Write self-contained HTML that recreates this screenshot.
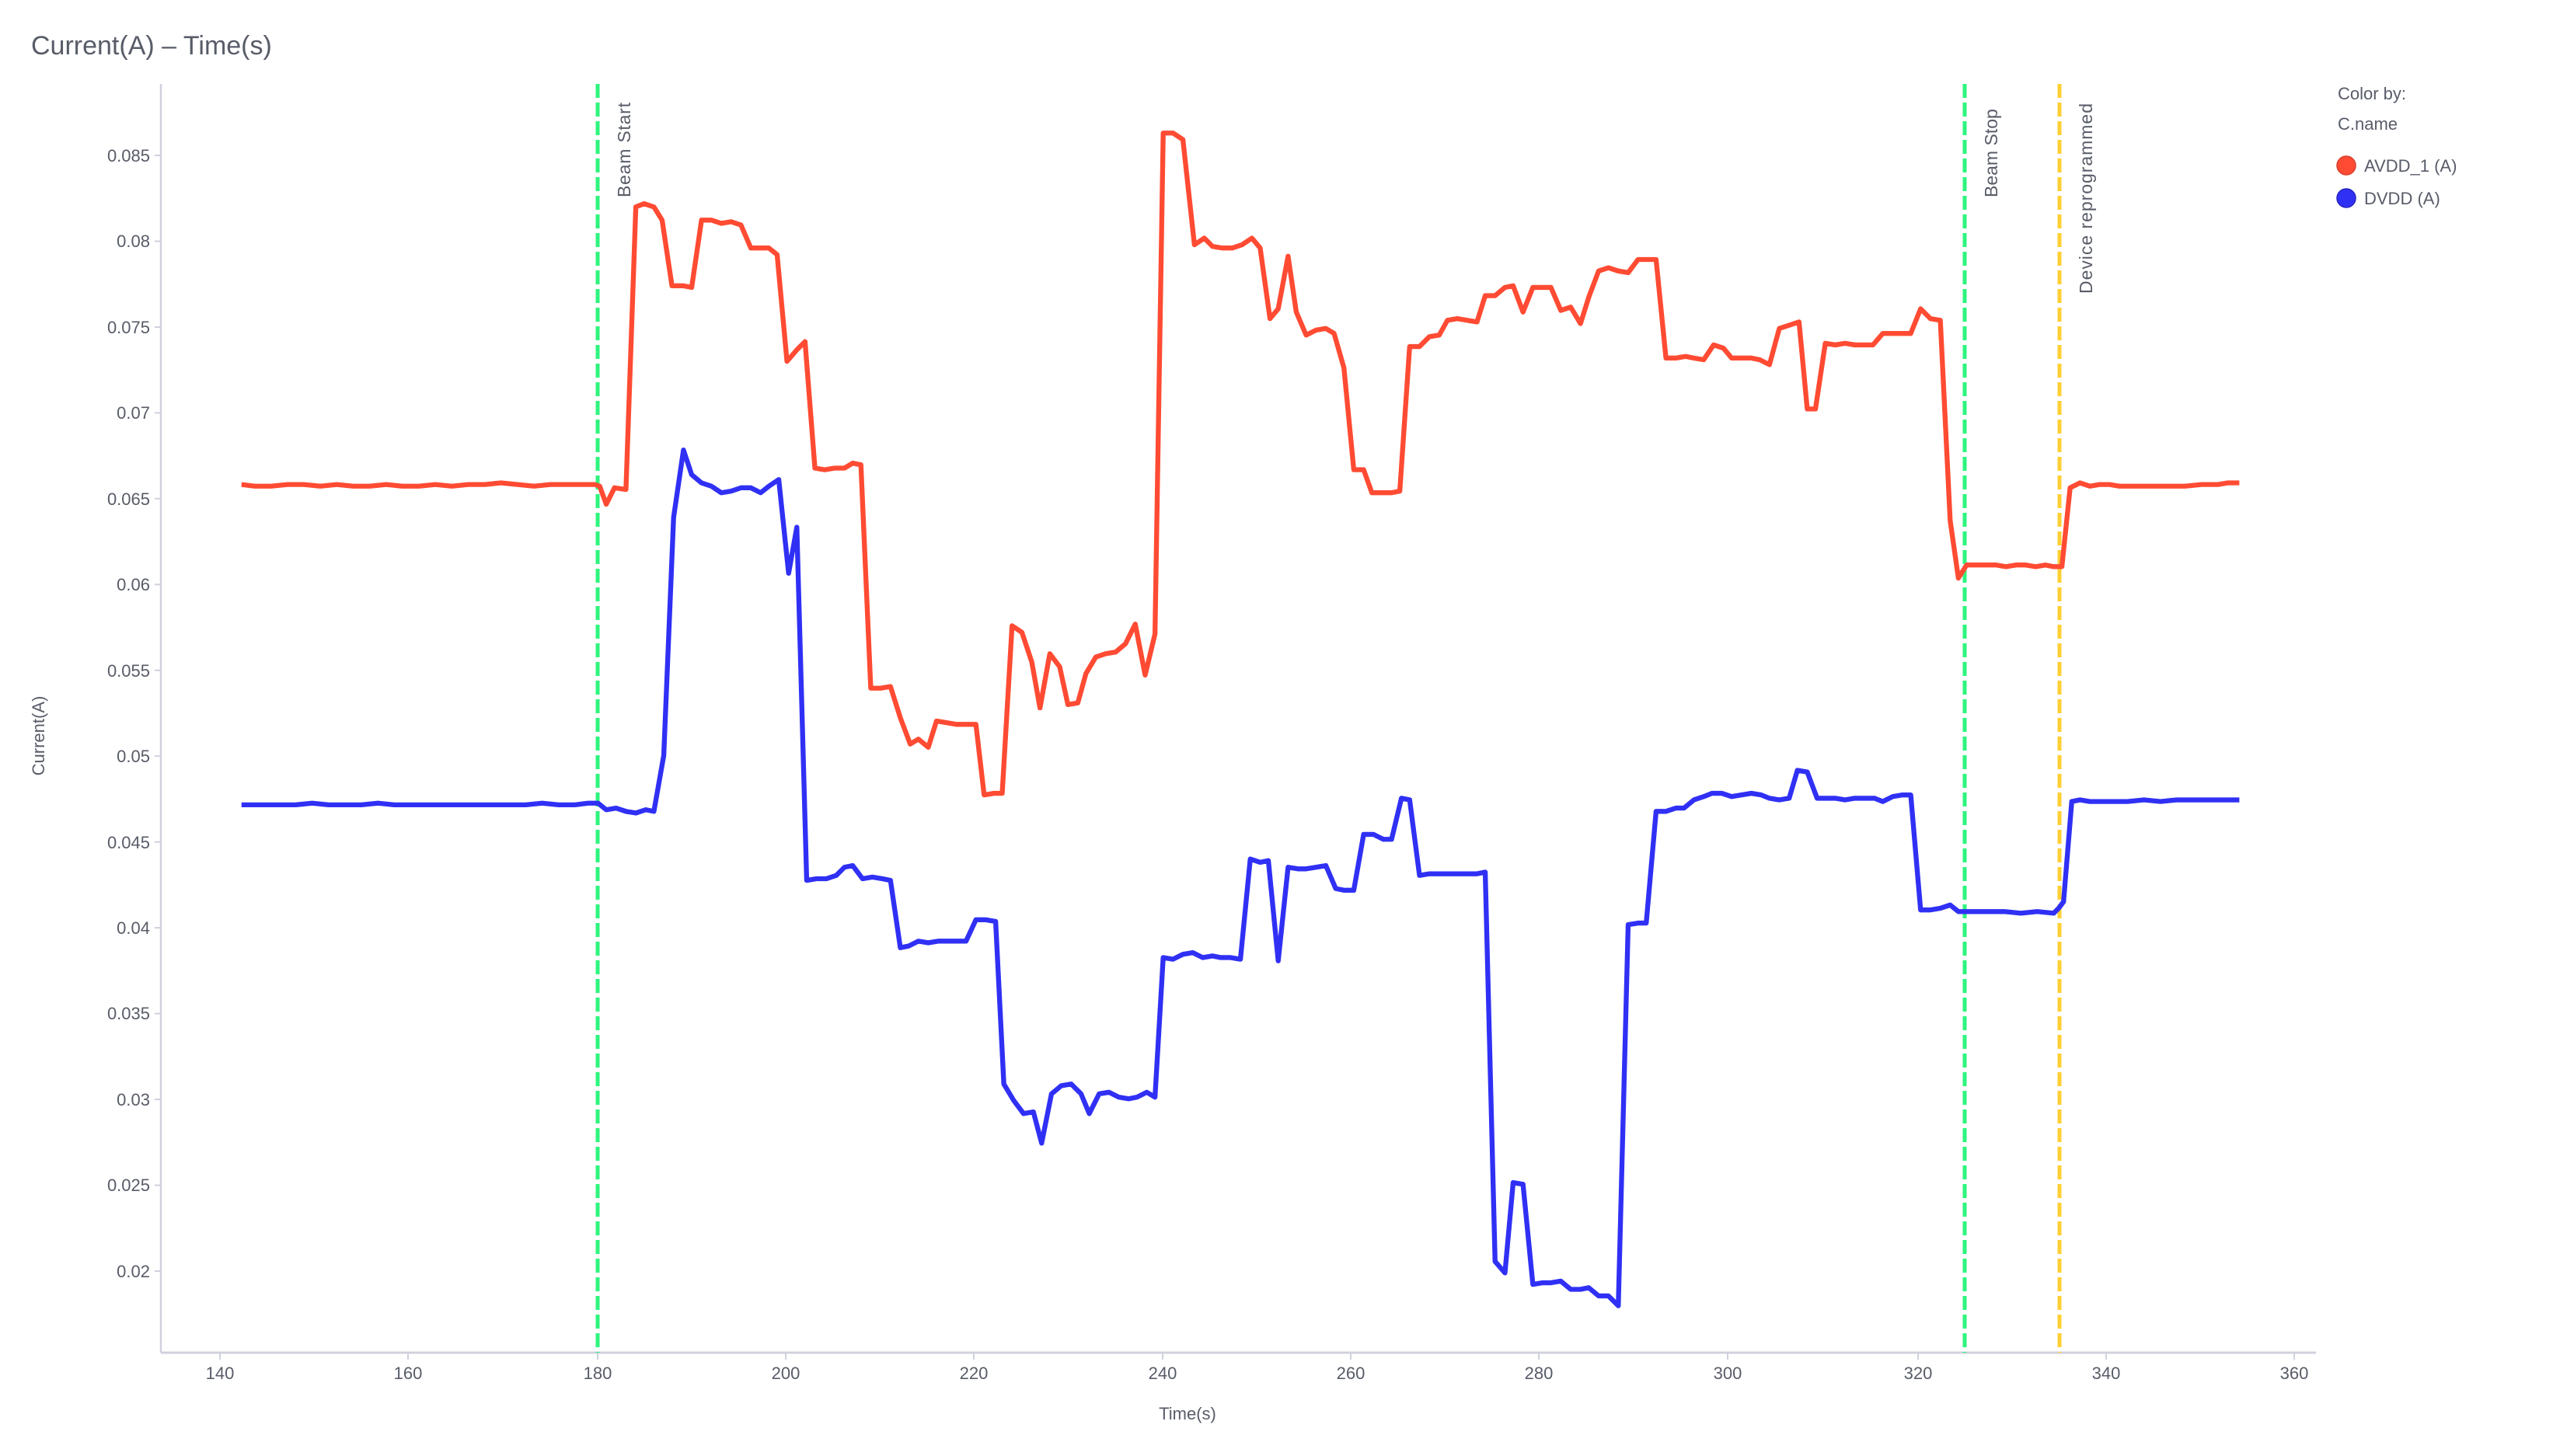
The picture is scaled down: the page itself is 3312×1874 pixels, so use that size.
<!DOCTYPE html>
<html><head><meta charset="utf-8"><style>
html,body{margin:0;padding:0;background:#fff;}
svg{display:block;}
text{font-family:"Liberation Sans",sans-serif;fill:#585c68;}
</style></head><body>
<svg width="3312" height="1874" viewBox="0 0 3312 1874" xmlns="http://www.w3.org/2000/svg">
<text x="40" y="70" font-size="34" fill="#333">Current(A) – Time(s)</text>
<!-- axes -->
<line x1="207" y1="108" x2="207" y2="1741" stroke="#d0d1dd" stroke-width="2.5"/>
<line x1="207" y1="1741" x2="2980" y2="1741" stroke="#d0d1dd" stroke-width="3"/>
<g stroke="#d0d1dd" stroke-width="2">
<line x1="199" y1="200" x2="207" y2="200"/><line x1="199" y1="310.5" x2="207" y2="310.5"/><line x1="199" y1="421" x2="207" y2="421"/><line x1="199" y1="531.4" x2="207" y2="531.4"/><line x1="199" y1="641.8" x2="207" y2="641.8"/><line x1="199" y1="752.3" x2="207" y2="752.3"/><line x1="199" y1="862.8" x2="207" y2="862.8"/><line x1="199" y1="973.2" x2="207" y2="973.2"/><line x1="199" y1="1083.7" x2="207" y2="1083.7"/><line x1="199" y1="1194.1" x2="207" y2="1194.1"/><line x1="199" y1="1304.6" x2="207" y2="1304.6"/><line x1="199" y1="1415" x2="207" y2="1415"/><line x1="199" y1="1525.5" x2="207" y2="1525.5"/><line x1="199" y1="1636" x2="207" y2="1636"/>
<line x1="283" y1="1741" x2="283" y2="1750"/><line x1="525" y1="1741" x2="525" y2="1750"/><line x1="769" y1="1741" x2="769" y2="1750"/><line x1="1011" y1="1741" x2="1011" y2="1750"/><line x1="1253" y1="1741" x2="1253" y2="1750"/><line x1="1496" y1="1741" x2="1496" y2="1750"/><line x1="1738" y1="1741" x2="1738" y2="1750"/><line x1="1980" y1="1741" x2="1980" y2="1750"/><line x1="2223" y1="1741" x2="2223" y2="1750"/><line x1="2468" y1="1741" x2="2468" y2="1750"/><line x1="2710" y1="1741" x2="2710" y2="1750"/><line x1="2952" y1="1741" x2="2952" y2="1750"/>
</g>
<g font-size="22" text-anchor="end">
<text x="193" y="208">0.085</text><text x="193" y="318">0.08</text><text x="193" y="429">0.075</text><text x="193" y="539">0.07</text><text x="193" y="650">0.065</text><text x="193" y="760">0.06</text><text x="193" y="871">0.055</text><text x="193" y="981">0.05</text><text x="193" y="1092">0.045</text><text x="193" y="1202">0.04</text><text x="193" y="1312">0.035</text><text x="193" y="1423">0.03</text><text x="193" y="1533">0.025</text><text x="193" y="1644">0.02</text>
</g>
<g font-size="22" text-anchor="middle">
<text x="283" y="1775">140</text><text x="525" y="1775">160</text><text x="769" y="1775">180</text><text x="1011" y="1775">200</text><text x="1253" y="1775">220</text><text x="1496" y="1775">240</text><text x="1738" y="1775">260</text><text x="1980" y="1775">280</text><text x="2223" y="1775">300</text><text x="2468" y="1775">320</text><text x="2710" y="1775">340</text><text x="2952" y="1775">360</text>
<text x="1528" y="1827">Time(s)</text>
<text transform="translate(57,947) rotate(-90)">Current(A)</text>
</g>
<!-- markers -->
<g stroke-width="5" stroke-dasharray="18,6">
<line x1="769" y1="108" x2="769" y2="1741" stroke="#2ef57e"/>
<line x1="2528" y1="108" x2="2528" y2="1741" stroke="#2ef57e"/>
<line x1="2650" y1="108" x2="2650" y2="1741" stroke="#ffcf33"/>
</g>
<g font-size="23">
<text transform="translate(811,254) rotate(-90)" textLength="122">Beam Start</text>
<text transform="translate(2570,254) rotate(-90)">Beam Stop</text>
<text transform="translate(2692,378) rotate(-90)" textLength="245">Device reprogrammed</text>
</g>
<!-- legend -->
<g font-size="22">
<text x="3008" y="128">Color by:</text>
<text x="3008" y="167">C.name</text>
<circle cx="3019" cy="213" r="12" fill="#ff4b33" stroke="#d8402c" stroke-width="1.5"/>
<text x="3042" y="221">AVDD_1 (A)</text>
<circle cx="3019" cy="255" r="12" fill="#3030f5" stroke="#2626c0" stroke-width="1.5"/>
<text x="3042" y="263">DVDD (A)</text>
</g>
<g transform="scale(2.114)" fill="none" stroke-width="3" stroke-linejoin="round">
<polyline stroke="#ff4b33" points="147,295 155,296 165,296 175,295 185,295 195,296 205,295 215,296 225,296 235,295 245,296 255,296 265,295 275,296 285,295 295,295 305,294 315,295 325,296 335,295 345,295 355,295 362,295 365,296 369,307 374,297 381,298 387,126 392,124 398,126 403,134 409,174 416,174 421,175 427,134 433,134 439,136 445,135 451,137 457,151 463,151 468,151 473,155 479,220 485,213 490,208 496,285 502,286 508,285 514,285 519,282 524,283 530,419 536,419 542,418 548,437 554,453 559,450 565,455 570,439 576,440 582,441 588,441 594,441 599,484 605,483 610,483 616,381 622,385 628,403 633,431 639,398 645,406 650,429 656,428 661,410 667,400 673,398 679,397 685,392 691,380 697,411 703,386 708,81 714,81 720,85 727,149 733,145 738,150 744,151 750,151 756,149 762,145 767,151 773,194 778,188 784,156 789,190 795,204 801,201 807,200 812,203 818,224 824,286 830,286 835,300 841,300 847,300 852,299 858,211 864,211 870,205 876,204 881,195 887,194 893,195 899,196 904,180 910,180 916,175 921,174 927,190 933,175 939,175 944,175 950,189 956,187 962,197 967,181 973,165 979,163 985,165 991,166 997,158 1003,158 1008,158 1014,218 1020,218 1026,217 1031,218 1037,219 1043,210 1049,212 1054,218 1060,218 1066,218 1071,219 1077,222 1083,200 1089,198 1095,196 1100,249 1105,249 1111,209 1117,210 1123,209 1129,210 1134,210 1140,210 1146,203 1152,203 1157,203 1163,203 1169,188 1175,194 1181,195 1187,317 1192,352 1197,344 1203,344 1209,344 1215,344 1221,345 1227,344 1233,344 1239,345 1245,344 1250,345 1255,345 1260,297 1266,294 1272,296 1278,295 1284,295 1290,296 1300,296 1310,296 1320,296 1330,296 1340,295 1350,295 1356,294 1363,294"/>
<polyline stroke="#3030f5" points="147,490 160,490 170,490 180,490 190,489 200,490 210,490 220,490 230,489 240,490 250,490 260,490 270,490 280,490 290,490 300,490 310,490 320,490 330,489 340,490 350,490 358,489 364,489 369,493 375,492 381,494 387,495 393,493 398,494 404,460 410,315 416,274 421,289 427,294 433,296 439,300 445,299 451,297 457,297 463,300 468,296 474,292 480,349 485,321 491,536 497,535 503,535 509,533 514,528 519,527 525,535 531,534 537,535 542,536 548,577 553,576 559,573 565,574 571,573 577,573 583,573 588,573 594,560 600,560 606,561 611,660 617,670 623,678 629,677 634,696 640,666 646,661 652,660 658,666 663,678 669,666 675,665 681,668 687,669 692,668 698,665 703,668 708,583 714,584 720,581 726,580 732,583 738,582 743,583 749,583 755,584 761,523 767,525 772,524 778,585 784,528 790,529 795,529 801,528 807,527 813,541 818,542 824,542 830,508 836,508 842,511 847,511 853,486 858,487 864,533 870,532 876,532 881,532 887,532 893,532 899,532 904,531 910,768 916,775 921,720 927,721 933,782 939,781 944,781 950,780 956,785 962,785 967,784 973,789 979,789 985,795 991,563 997,562 1002,562 1008,494 1014,494 1020,492 1025,492 1031,487 1037,485 1042,483 1048,483 1054,485 1060,484 1066,483 1072,484 1077,486 1083,487 1089,486 1094,469 1100,470 1106,486 1112,486 1117,486 1123,487 1129,486 1135,486 1141,486 1146,488 1152,485 1158,484 1163,484 1169,554 1175,554 1181,553 1187,551 1192,555 1198,555 1210,555 1220,555 1230,556 1240,555 1250,556 1253,553 1256,549 1261,488 1266,487 1272,488 1285,488 1295,488 1305,487 1315,488 1325,487 1335,487 1345,487 1355,487 1363,487"/>
</g>
</svg>
</body></html>
